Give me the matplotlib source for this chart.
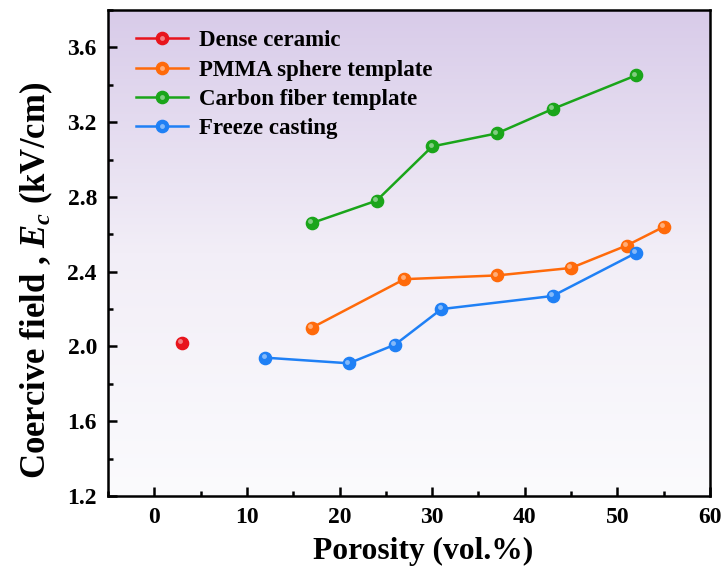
import numpy as np
import matplotlib
matplotlib.use("Agg")
import matplotlib.pyplot as plt
from matplotlib.ticker import MultipleLocator
from matplotlib.colors import LinearSegmentedColormap
from matplotlib.transforms import offset_copy
from matplotlib.legend_handler import HandlerTuple

plt.rcParams['font.family'] = ['Liberation Serif', 'DejaVu Serif']
plt.rcParams['mathtext.fontset'] = 'custom'
plt.rcParams['mathtext.rm'] = 'Liberation Serif:bold'
plt.rcParams['mathtext.it'] = 'Liberation Serif:italic:bold'
plt.rcParams['mathtext.bf'] = 'Liberation Serif:bold'

dense_x = [3]
dense_y = [2.02]
pmma_x = [17, 27, 37, 45, 51, 55]
pmma_y = [2.10, 2.36, 2.38, 2.42, 2.54, 2.64]
carbon_x = [17, 24, 30, 37, 43, 52]
carbon_y = [2.66, 2.78, 3.07, 3.14, 3.27, 3.45]
freeze_x = [12, 21, 26, 31, 43, 52]
freeze_y = [1.94, 1.91, 2.01, 2.20, 2.27, 2.50]

labels = ["Dense ceramic", "PMMA sphere template", "Carbon fiber template", "Freeze casting"]
colors = ["#e8141c", "#ff6a0a", "#1aa51a", "#1f80f5"]

fig = plt.figure(figsize=(7.22, 5.67), dpi=100)
ax = fig.add_axes([0.1496, 0.1252, 0.8338, 0.8572])

# gradient background
cmap = LinearSegmentedColormap.from_list("bg", ["#fbfbfd", "#f2eef7", "#d8cbe9"])
grad = np.linspace(0, 1, 256).reshape(-1, 1)
ax.imshow(grad, aspect='auto', cmap=cmap, origin='lower',
          extent=[0, 1, 0, 1], transform=ax.transAxes, zorder=0)

hl_trans = offset_copy(ax.transData, fig=fig, x=-1.2, y=1.2, units='points')
series = [(dense_x, dense_y), (pmma_x, pmma_y), (carbon_x, carbon_y), (freeze_x, freeze_y)]
handles = []
for (xs, ys), lab, c in zip(series, labels, colors):
    ln, = ax.plot(xs, ys, '-o', color=c, lw=1.8, markersize=8.8,
                  markeredgecolor=c, zorder=3)
    hl, = ax.plot(xs, ys, 'o', color='white', alpha=0.45, markersize=3.5,
                  markeredgewidth=0, transform=hl_trans, zorder=4)
    handles.append((ln, hl))

ax.set_xlim(-5, 60)
ax.set_ylim(1.2, 3.8)
ax.xaxis.set_major_locator(MultipleLocator(10))
ax.xaxis.set_minor_locator(MultipleLocator(5))
ax.yaxis.set_minor_locator(MultipleLocator(0.2))
ax.set_yticks([1.2, 1.6, 2.0, 2.4, 2.8, 3.2, 3.6])
ax.tick_params(which='both', direction='in', top=False, right=False, width=1.8)
ax.tick_params(which='major', length=6.5, labelsize=17, pad=8)
ax.tick_params(which='minor', length=3.5)
for lab in ax.get_xticklabels() + ax.get_yticklabels():
    lab.set_fontweight('bold')
for sp in ax.spines.values():
    sp.set_linewidth(1.8)

ax.set_xlabel("Porosity (vol.%)", fontsize=22.7, fontweight='bold')
ax.set_ylabel(r"Coercive field , $\mathit{E_c}$ (kV/cm)", fontsize=25, fontweight='bold')
ax.xaxis.set_label_coords(0.523, -0.085)
ax.yaxis.set_label_coords(-0.088, 0.444)

leg = ax.legend(handles, labels, loc='upper left', frameon=False,
                handler_map={tuple: HandlerTuple(ndivide=1)},
                prop={'weight': 'bold', 'size': 16.5}, handlelength=2.27,
                handletextpad=0.48, borderaxespad=0.3, labelspacing=0.36,
                bbox_to_anchor=(0.02, 0.991))

fig.savefig("out.png", dpi=100)
